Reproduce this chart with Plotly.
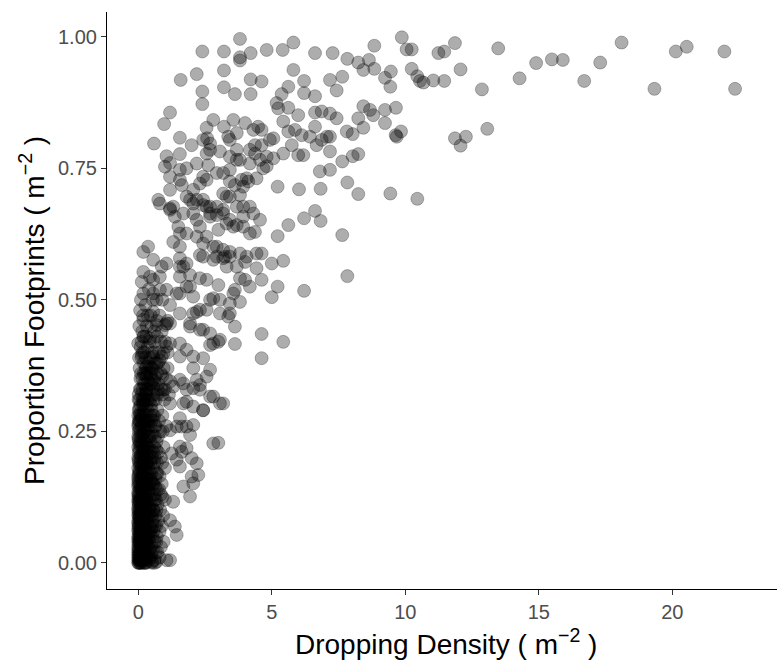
import plotly.graph_objects as go

# (dropping density, proportion footprints) pairs
far_right = [
    (7.28,0.969),(7.83,0.958),(8.24,0.951),(8.64,0.956),(8.43,0.937),(8.84,0.983),(8.84,0.939),
    (9.87,0.999),(10.05,0.976),(10.24,0.976),(9.46,0.934),(9.24,0.922),(9.44,0.905),(10.24,0.939),
    (10.45,0.925),(10.55,0.916),(10.68,0.913),(11.05,0.917),(11.46,0.916),(11.24,0.969),(11.46,0.972),
    (11.86,0.988),(12.07,0.938),(13.48,0.978),(12.87,0.900),(14.28,0.921),(14.9,0.950),(15.49,0.957),
    (15.9,0.956),(16.7,0.916),(17.3,0.951),(18.1,0.989),(19.33,0.901),(20.13,0.972),(20.54,0.981),
    (21.95,0.972),(22.35,0.901),
    (7.18,0.918),(7.64,0.924),(7.43,0.898),
    (8.43,0.868),(8.68,0.861),(8.80,0.851),(9.24,0.861),(9.65,0.865),
    (7.18,0.854),(7.43,0.845),(8.24,0.845),(8.43,0.827),(8.03,0.815),(9.24,0.836),
    (9.64,0.813),(9.84,0.820),(9.68,0.810),
    (11.86,0.807),(12.07,0.793),(12.27,0.810),(13.07,0.825),
    (7.18,0.810),(7.18,0.782),(7.64,0.763),(8.03,0.773),(8.24,0.777),(7.18,0.747),(7.83,0.723),
    (8.24,0.701),(9.44,0.702),(10.45,0.692),(7.64,0.623),(7.81,0.820),
]

middle = [
    (3.81,0.955),(5.81,0.937),(4.21,0.919),(4.62,0.915),(3.62,0.891),(4.21,0.891),(5.62,0.905),
    (5.37,0.891),(6.21,0.916),(6.21,0.893),(6.62,0.887),
    (5.18,0.874),(5.24,0.864),(5.62,0.865),(5.99,0.851),(5.43,0.839),(6.62,0.856),(6.87,0.858),
    (3.56,0.842),(4.0,0.836),(4.49,0.829),(4.62,0.823),(4.93,0.804),(5.06,0.807),
    (5.62,0.820),(5.87,0.823),(6.12,0.813),(6.43,0.810),(6.62,0.829),(6.68,0.794),(7.06,0.810),(6.87,0.804),
    (5.75,0.794),(5.99,0.775),(6.18,0.775),(5.43,0.778),(5.06,0.769),(4.81,0.754),
    (3.43,0.804),(3.69,0.785),(3.43,0.772),(3.81,0.766),(4.37,0.794),(4.62,0.794),(4.37,0.778),
    (4.18,0.759),(4.43,0.731),(4.06,0.731),(4.81,0.772),(4.68,0.750),(6.80,0.744),
    (5.22,0.715),(6.02,0.710),(6.83,0.711),
    (3.43,0.725),(3.62,0.718),(3.93,0.715),(4.12,0.725),
    (3.43,0.696),(3.81,0.699),(4.18,0.677),(4.31,0.664),(3.93,0.658),(3.43,0.652),(4.56,0.652),
    (3.56,0.639),(4.18,0.626),(4.37,0.629),
    (5.62,0.642),(5.22,0.621),(6.21,0.655),(6.62,0.669),(6.83,0.650),(7.83,0.545),
    (3.43,0.591),(3.81,0.588),(3.69,0.563),(4.0,0.572),(4.62,0.588),(4.43,0.560),(5.0,0.569),
    (5.43,0.574),(4.62,0.538),(4.18,0.525),(4.0,0.538),(3.62,0.519),(3.81,0.496),(5.22,0.525),
    (5.0,0.505),(6.21,0.517),
    (3.43,0.474),(3.62,0.449),(3.62,0.416),(4.62,0.435),(5.43,0.420),(4.62,0.389),
]

upper_left = [
    (3.81,0.996),(2.40,0.972),(3.21,0.972),(3.81,0.961),(4.21,0.969),(4.81,0.975),(5.41,0.975),
    (5.81,0.989),(6.62,0.969),
    (1.59,0.918),(2.19,0.929),(3.21,0.936),(2.40,0.896),(2.40,0.872),(3.21,0.904),
    (1.19,0.856),(0.97,0.834),(0.59,0.797),(1.56,0.808),
    (2.81,0.842),(2.56,0.827),(3.21,0.829),(3.37,0.810),(2.43,0.804),(2.0,0.794),(2.19,0.759),
    (2.56,0.778),(2.69,0.797),(1.81,0.750),
    (1.06,0.773),(1.56,0.777),(1.0,0.753),(1.19,0.760),(1.56,0.747),(1.56,0.728),(1.19,0.709),
    (0.75,0.690),(1.19,0.674),(1.37,0.658),(1.94,0.690),(2.06,0.709),(2.31,0.721),(2.56,0.728),
    (2.94,0.741),(3.18,0.741),
    (2.19,0.690),(2.56,0.677),(2.69,0.658),(2.94,0.677),(3.31,0.696),
    (1.50,0.639),(1.81,0.626),(1.31,0.610),(1.56,0.601),(2.31,0.639),(2.19,0.620),(2.56,0.620),
    (3.0,0.633),(2.81,0.601),(2.43,0.582),(2.94,0.582),(3.25,0.582),(3.31,0.563),
    (0.37,0.601),(0.19,0.591),(0.56,0.576),(0.19,0.553),(0.44,0.544),(0.88,0.563),(1.06,0.569),
    (1.56,0.563),(1.81,0.569),(1.56,0.544),(1.81,0.525),(1.44,0.512),(0.19,0.512),(0.56,0.512),
    (1.06,0.519),(2.31,0.585),(2.81,0.576),(3.0,0.528),(3.18,0.579),
    (2.69,0.785),(2.58,0.807),(3.69,0.817),(3.06,0.782),(4.18,0.785),(4.31,0.823),(4.56,0.766),
    (3.69,0.766),(3.43,0.747),(2.62,0.756),(2.43,0.734),(1.19,0.734),(1.63,0.718),(1.81,0.696),
    (2.43,0.690),(3.18,0.702),(3.87,0.728),(3.93,0.677),(2.69,0.664),(3.18,0.664),(2.06,0.664),
]

column_mid = [
    (0.13,0.534),(0.56,0.538),(0.81,0.544),(0.81,0.519),(0.69,0.500),(1.19,0.490),(1.56,0.474),
    (0.56,0.477),(0.19,0.462),(0.69,0.452),(1.0,0.452),(1.19,0.455),(0.19,0.430),(0.0,0.417),
    (0.44,0.427),(0.13,0.395),(0.56,0.392),(0.31,0.373),(0.69,0.379),(0.94,0.398),(1.19,0.417),
    (1.56,0.417),(1.81,0.405),(2.06,0.392),(2.43,0.389),(2.69,0.367),(2.81,0.417),(2.69,0.436),
    (2.31,0.443),(1.94,0.449),(2.06,0.474),(2.31,0.481),(2.56,0.481),(3.06,0.474),(3.37,0.468),
    (3.06,0.424),(2.69,0.500),(3.06,0.500),(3.43,0.493),(3.81,0.541),(3.56,0.512),(2.56,0.538),
    (2.31,0.541),(1.94,0.547),(1.69,0.563),(1.56,0.512),(1.94,0.525),(2.06,0.506),(1.56,0.579),
    (1.56,0.626),(2.43,0.607),(2.94,0.601),(3.18,0.595),(3.43,0.582),(4.06,0.582),(4.43,0.588),
    (3.93,0.639),(3.69,0.642),(3.31,0.645),(2.94,0.661),(2.69,0.677),(2.43,0.680),(2.06,0.683),
    (1.31,0.677),(1.19,0.671),(0.81,0.683),(1.69,0.664),(2.19,0.652),(3.18,0.671),(3.69,0.677),
    (1.06,0.455),(1.94,0.455),(2.19,0.477),(2.43,0.443),(2.81,0.503),(2.69,0.414),(3.0,0.420),
    (2.06,0.370),(1.56,0.348),(2.19,0.348),(2.56,0.354),(1.81,0.329),(2.31,0.329),(2.81,0.316),
    (3.18,0.303),(2.06,0.297),(1.69,0.303),(1.19,0.303),(0.56,0.348),(0.31,0.329),(0.19,0.303),
    (0.06,0.284),(0.44,0.373),(0.88,0.392),(1.56,0.392),(1.06,0.411),
    (0.19,0.310),(0.31,0.322),(0.56,0.335),(0.94,0.329),(1.31,0.335),(1.69,0.341),(2.06,0.332),
    (2.31,0.338),(2.69,0.316),(3.06,0.303),(1.81,0.306),(2.43,0.290),
    (0.1,0.36),(0.3,0.355),(0.5,0.37),(0.7,0.36),(0.9,0.355),(1.1,0.37),(0.2,0.38),(0.45,0.39),
    (0.8,0.385),(1.2,0.345),(1.0,0.33),(0.6,0.4),(0.35,0.41),(0.85,0.42),(1.1,0.4),(1.1,0.46),(0.63,0.354),
]

column_right = [
    (1.63,0.211),(2.0,0.199),(2.19,0.189),(1.56,0.183),(2.0,0.164),(2.25,0.167),(2.06,0.151),
    (1.69,0.145),(1.94,0.126),(1.31,0.116),(1.19,0.081),(1.37,0.069),(1.44,0.053),(1.06,0.005),
    (1.19,0.005),(0.69,0.002),(0.50,0.002),
    (1.63,0.259),(1.94,0.243),(1.19,0.252),(1.56,0.221),(1.81,0.218),(1.25,0.208),(1.44,0.196),
    (1.56,0.275),(1.44,0.259),(1.81,0.259),(2.06,0.262),(2.43,0.290),(2.81,0.227),(3.0,0.228),
]

column_core = [
    (0,0),(0,0.01),(0,0.02),(0,0.03),(0,0.045),(0,0.06),(0,0.075),(0,0.09),(0,0.105),(0,0.12),
    (0.03,0.005),(0.03,0.025),(0.04,0.04),(0.03,0.055),(0.04,0.07),(0.03,0.085),(0.05,0.1),(0.04,0.115),
    (0.08,0),(0.07,0.015),(0.09,0.03),(0.08,0.05),(0.07,0.065),(0.09,0.08),(0.08,0.095),(0.1,0.11),
    (0.12,0.005),(0.13,0.02),(0.12,0.035),(0.14,0.06),(0.13,0.075),(0.12,0.09),(0.15,0.105),(0.13,0.12),
    (0.17,0),(0.18,0.015),(0.16,0.045),(0.19,0.055),(0.17,0.07),(0.18,0.085),(0.2,0.1),(0.18,0.125),
    (0.22,0.01),(0.24,0.03),(0.22,0.05),(0.25,0.065),(0.23,0.08),(0.26,0.095),(0.24,0.115),
    (0.02,0.015),(0.06,0.035),(0.1,0.045),(0.15,0.025),(0.11,0.065),(0.05,0.08),(0.01,0.095),
    (0.16,0.09),(0.21,0.075),(0.02,0.11),(0.1,0.0),
    (0.3,0.0),(0.35,0.02),(0.3,0.04),(0.38,0.06),(0.32,0.08),(0.36,0.1),(0.3,0.12),(0.4,0.135),
    (0.45,0.01),(0.5,0.03),(0.47,0.05),(0.52,0.075),(0.45,0.09),(0.5,0.11),(0.55,0.13),
    (0.6,0.005),(0.62,0.04),(0.58,0.06),(0.65,0.09),(0.6,0.12),(0.63,0.145),
    (0.72,0.02),(0.7,0.05),(0.75,0.08),(0.72,0.11),(0.78,0.14),
    (0.85,0.03),(0.88,0.07),(0.82,0.1),(0.9,0.125),(0.4,0.025),(0.27,0.055),(0.42,0.105),(0.56,0.1),
    (0,0.135),(0,0.15),(0,0.165),(0,0.18),(0,0.2),(0,0.22),(0,0.24),(0,0.26),(0,0.28),
    (0.05,0.14),(0.08,0.16),(0.06,0.185),(0.1,0.205),(0.05,0.225),(0.09,0.25),(0.04,0.27),(0.08,0.3),(0.06,0.33),
    (0.15,0.13),(0.18,0.15),(0.16,0.17),(0.2,0.19),(0.17,0.215),(0.2,0.235),(0.15,0.26),(0.19,0.285),(0.16,0.31),(0.2,0.34),
    (0.26,0.14),(0.3,0.16),(0.27,0.18),(0.3,0.2),(0.25,0.23),(0.29,0.25),(0.26,0.27),(0.3,0.3),(0.27,0.32),
    (0.38,0.15),(0.42,0.17),(0.36,0.19),(0.45,0.21),(0.4,0.24),(0.37,0.26),(0.44,0.28),(0.4,0.31),(0.36,0.345),
    (0.5,0.155),(0.55,0.18),(0.52,0.2),(0.6,0.22),(0.54,0.245),(0.58,0.27),(0.5,0.29),(0.56,0.32),(0.6,0.345),
    (0.65,0.16),(0.7,0.19),(0.68,0.215),(0.74,0.24),(0.66,0.26),(0.72,0.29),(0.7,0.32),
    (0.8,0.165),(0.85,0.2),(0.95,0.22),(0.82,0.25),(0.9,0.28),(0.98,0.31),(0.85,0.33),(1.0,0.18),(1.05,0.26),
]

column_core_extra = [
    (0,0.005),(0,0.015),(0,0.025),(0,0.04),(0,0.05),(0,0.065),(0,0.08),(0,0.1),(0,0.115),(0,0.13),(0,0.145),(0,0.16),
    (0.05,0.0),(0.05,0.02),(0.06,0.045),(0.05,0.06),(0.06,0.09),(0.05,0.12),(0.06,0.15),
    (0.1,0.015),(0.11,0.035),(0.1,0.055),(0.1,0.075),(0.11,0.095),(0.1,0.125),(0.11,0.14),
    (0.15,0.005),(0.15,0.04),(0.16,0.065),(0.15,0.085),(0.16,0.11),(0.15,0.15),
    (0.2,0.005),(0.2,0.03),(0.21,0.06),(0.2,0.08),(0.21,0.12),(0.2,0.145),
    (0.26,0.0),(0.27,0.025),(0.28,0.045),(0.26,0.075),(0.28,0.1),(0.27,0.13),(0.3,0.15),
    (0.02,0.17),(0.03,0.19),(0.02,0.21),(0.03,0.23),(0.02,0.25),(0.03,0.27),(0.02,0.29),
    (0.12,0.16),(0.13,0.18),(0.12,0.2),(0.11,0.22),(0.13,0.24),(0.12,0.26),(0.11,0.28),
    (0.22,0.16),(0.23,0.18),(0.24,0.2),(0.22,0.22),(0.23,0.25),(0.24,0.27),(0.22,0.29),
    (0.33,0.17),(0.34,0.19),(0.33,0.22),(0.35,0.24),(0.33,0.27),(0.34,0.29),
    (0.45,0.16),(0.46,0.19),(0.47,0.23),(0.45,0.26),(0.48,0.3),
    (0.58,0.15),(0.6,0.19),(0.62,0.24),(0.6,0.28),
    (0.7,0.14),(0.72,0.17),(0.75,0.21),(0.78,0.27),
    (0.88,0.15),(0.9,0.19),(0.92,0.25),
    (0.33,0.01),(0.35,0.05),(0.33,0.09),(0.35,0.13),(0.42,0.04),(0.44,0.07),(0.41,0.12),(0.52,0.0),
    (0.54,0.05),(0.5,0.09),(0.66,0.02),(0.68,0.07),(0.66,0.12),(0.8,0.01),(0.8,0.06),(0.95,0.04),
    (0.93,0.09),(1.0,0.12),(0.85,0.13),(0.58,0.1),
    (0.05,0.31),(0.1,0.33),(0.15,0.35),(0.05,0.37),(0.12,0.39),(0.25,0.34),(0.28,0.37),(0.22,0.4),
    (0.4,0.33),(0.42,0.36),(0.38,0.38),(0.5,0.34),(0.52,0.4),(0.65,0.31),(0.62,0.38),(0.75,0.34),
    (0.78,0.4),(0.9,0.32),(0.95,0.37),(1.05,0.35),(1.15,0.32),(0.3,0.43),(0.7,0.43),(0.5,0.45),(0.15,0.44),
]

column_core_dense = [
    (0.01,0.0),(0.01,0.035),(0.01,0.07),(0.01,0.125),(0.01,0.155),(0.01,0.195),(0.01,0.235),(0.01,0.265),(0.01,0.31),
    (0.04,0.01),(0.04,0.05),(0.04,0.09),(0.04,0.13),(0.04,0.175),(0.04,0.215),(0.04,0.255),(0.04,0.295),
    (0.07,0.005),(0.07,0.04),(0.07,0.08),(0.07,0.12),(0.07,0.17),(0.07,0.2),(0.07,0.24),(0.07,0.28),
    (0.09,0.02),(0.09,0.06),(0.09,0.105),(0.09,0.145),(0.09,0.19),(0.09,0.23),(0.09,0.27),
    (0.14,0.01),(0.14,0.05),(0.14,0.1),(0.14,0.14),(0.14,0.185),(0.14,0.225),(0.14,0.275),(0.14,0.32),
    (0.18,0.035),(0.18,0.075),(0.18,0.115),(0.18,0.165),(0.18,0.205),(0.18,0.245),(0.18,0.3),
    (0.23,0.0),(0.23,0.045),(0.23,0.09),(0.23,0.135),(0.23,0.175),(0.23,0.215),(0.23,0.26),(0.23,0.31),
    (0.29,0.015),(0.29,0.06),(0.29,0.11),(0.29,0.145),(0.29,0.19),(0.29,0.225),(0.29,0.28),
    (0.34,0.035),(0.34,0.075),(0.34,0.115),(0.34,0.16),(0.34,0.205),(0.34,0.255),(0.34,0.31),
    (0.39,0.005),(0.39,0.045),(0.39,0.09),(0.39,0.14),(0.39,0.18),(0.39,0.22),(0.39,0.27),
    (0.44,0.025),(0.44,0.06),(0.44,0.1),(0.44,0.15),(0.44,0.195),(0.44,0.24),
    (0.49,0.015),(0.49,0.065),(0.49,0.12),(0.49,0.17),(0.49,0.215),(0.49,0.27),
    (0.55,0.025),(0.55,0.08),(0.55,0.15),(0.55,0.21),(0.55,0.28),
    (0.62,0.0),(0.62,0.07),(0.62,0.13),(0.62,0.2),(0.62,0.26),
    (0.68,0.04),(0.68,0.1),(0.68,0.17),(0.68,0.23),
    (0.25,0.36),(0.45,0.34),(0.12,0.42),(0.6,0.42),(0.35,0.47),(0.8,0.47),(0.1,0.5),(0.4,0.52),(0.9,0.5),
]

column_upper_dense = [
    (0.02,0.32),(0.08,0.35),(0.03,0.39),(0.09,0.41),(0.04,0.45),(0.07,0.48),
    (0.17,0.33),(0.2,0.36),(0.16,0.4),(0.21,0.43),(0.18,0.47),
    (0.3,0.33),(0.33,0.36),(0.28,0.39),(0.32,0.45),(0.27,0.49),
    (0.45,0.31),(0.48,0.36),(0.43,0.42),(0.47,0.47),
    (0.58,0.31),(0.55,0.37),(0.6,0.44),(0.55,0.5),
    (0.72,0.33),(0.75,0.38),(0.7,0.46),(0.85,0.36),(0.88,0.44),(1.0,0.42),
]

x_ticks = [0, 5, 10, 15, 20]
y_ticks = [0, 0.25, 0.5, 0.75, 1.0]
y_tick_labels = ["0.00", "0.25", "0.50", "0.75", "1.00"]

groups = [far_right, middle, upper_left, column_mid, column_right, column_core,
          column_core_extra, column_core_dense, column_upper_dense]
density = [p[0] for g in groups for p in g]
footprints = [p[1] for g in groups for p in g]

fig = go.Figure(go.Scatter(
    x=density, y=footprints, mode="markers",
    marker=dict(size=13, color="rgba(0,0,0,0.32)",
                line=dict(color="rgba(0,0,0,0.32)", width=0.8)),
    hoverinfo="skip",
))

FONT = "Liberation Sans, Arial, Helvetica, sans-serif"
axis_common = dict(
    showline=True, linecolor="black", linewidth=1.2, mirror=False,
    ticks="outside", ticklen=5, tickwidth=1.1, tickcolor="#333333",
    tickfont=dict(family=FONT, size=20, color="#4d4d4d"),
    showgrid=False, zeroline=False,
)

fig.update_layout(
    width=777, height=660,
    margin=dict(l=107, r=0, t=12, b=71, pad=0),
    plot_bgcolor="white", paper_bgcolor="white",
    showlegend=False,
    xaxis=dict(range=[-1.17, 23.92], tickvals=x_ticks, **axis_common),
    yaxis=dict(range=[-0.0498, 1.0471], tickvals=y_ticks, ticktext=y_tick_labels, **axis_common),
    annotations=[
        dict(text="Dropping Density ( m<sup>\u22122</sup> )", xref="paper", yref="paper",
             x=0.506, y=-0.091, xanchor="center", yanchor="middle", showarrow=False,
             font=dict(family=FONT, size=28, color="black")),
        dict(text="Proportion Footprints ( m<sup>\u22122</sup> )", xref="paper", yref="paper",
             x=-0.112, y=0.4835, xanchor="center", yanchor="middle", showarrow=False, textangle=-90,
             font=dict(family=FONT, size=28, color="black")),
    ],
)

fig.write_html("out.html")
